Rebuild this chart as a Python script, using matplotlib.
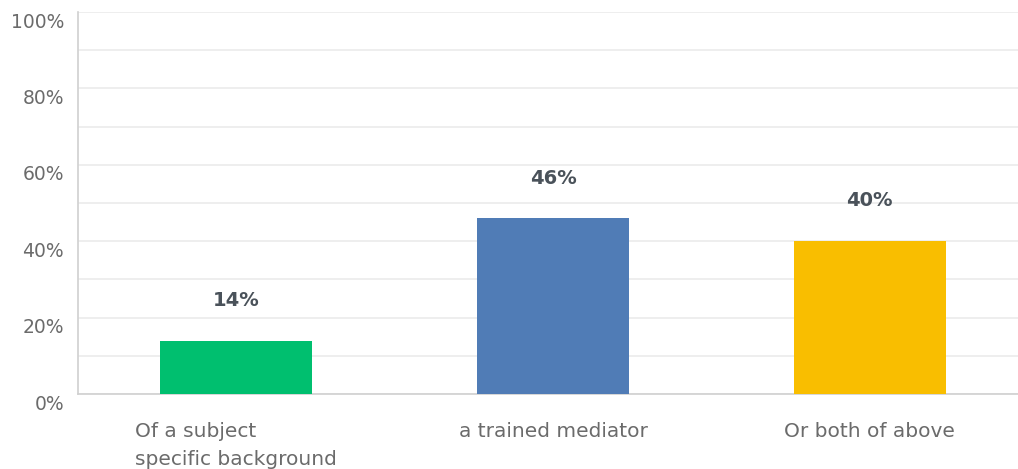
import matplotlib
matplotlib.use("Agg")
import matplotlib.pyplot as plt
import matplotlib.transforms as mtransforms

categories = ["Of a subject\nspecific background", "a trained mediator", "Or both of above"]
values = [14, 46, 40]
colors = ["#00BF6F", "#507CB6", "#F9BE00"]
yticks = [0, 20, 40, 60, 80, 100]
ytick_labels = ["0%", "20%", "40%", "60%", "80%", "100%"]

plt.rcParams['font.family'] = ['DejaVu Sans']

W, H = 1018, 469
fig = plt.figure(figsize=(W / 100, H / 100), dpi=100)
left, right, top, bottom = 78, 1028, 12, 394
ax = fig.add_axes([left / W, 1 - bottom / H, (right - left) / W, (bottom - top) / H])

x = list(range(len(categories)))
ax.bar(x, values, width=0.48, color=colors, zorder=3)
ax.set_xlim(-0.5, 2.5)
ax.set_ylim(0, 100)
ax.set_yticks(yticks)
ax.set_yticklabels(ytick_labels)
ax.set_yticks(range(0, 101, 10), minor=True)
ax.grid(axis='y', which='both', color='#ebebeb', linewidth=1.2, zorder=0)
ax.tick_params(axis='y', which='both', length=0, pad=10, labelsize=13.5, labelcolor='#6b6b6b')
offset = mtransforms.ScaledTranslation(0, -8 / 100, fig.dpi_scale_trans)
for lbl in ax.get_yticklabels():
    lbl.set_transform(lbl.get_transform() + offset)
ax.set_xticks(x)
ax.set_xticklabels(categories, multialignment='left')
ax.tick_params(axis='x', length=0, pad=20, labelsize=14.5, labelcolor='#6b6b6b')
for lbl in ax.get_xticklabels():
    lbl.set_linespacing(1.6)
for s in ['top', 'right']:
    ax.spines[s].set_visible(False)
for s in ['left', 'bottom']:
    ax.spines[s].set_color('#d0d0d0')
    ax.spines[s].set_linewidth(1.2)

for xi, v in zip(x, values):
    ax.annotate(f"{v}%", (xi, v), xytext=(0, 29), textcoords='offset points',
                ha='center', va='center', fontsize=14, fontweight='bold', color='#4a525a')

fig.savefig("out.png", dpi=100)
